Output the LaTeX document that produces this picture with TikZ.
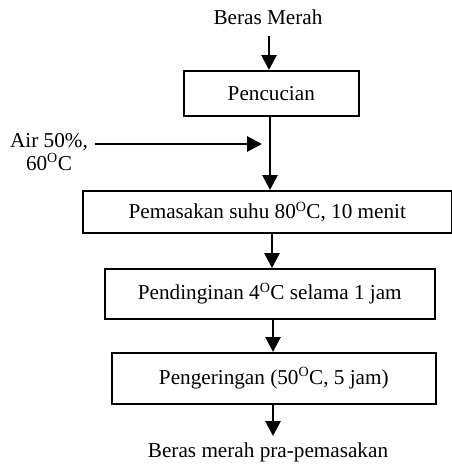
\documentclass[tikz,border=0pt]{standalone}
\usepackage{fontspec}
\setmainfont{Liberation Serif}
\usetikzlibrary{arrows.meta}
\newcommand{\degO}{\textsuperscript{\fontsize{14}{14}\selectfont O}}
\begin{document}
\begin{tikzpicture}[x=1pt,y=-1pt,
  every node/.style={font=\fontsize{21.2}{23}\selectfont, inner sep=0pt},
  box/.style={draw, line width=1.6pt, anchor=north west},
  arr/.style={line width=2.8pt, -{Triangle[length=15pt,width=15pt]}}]
\useasboundingbox (0,0) rectangle (452,466);
\node (t) at (268,17) {Beras Merah};
\node[box, minimum width=175pt, minimum height=45pt] (p1) at (183,70) {Pencucian};
\node[box, minimum width=369pt, minimum height=42pt] (p2) at (82,190) {Pemasakan suhu 80\degO C, 10 menit};
\node[box, minimum width=330pt, minimum height=50pt] (p3) at (104,268) {Pendinginan 4\degO C selama 1 jam};
\node[box, minimum width=324pt, minimum height=51pt] (p4) at (111,352) {Pengeringan (50\degO C, 5 jam)};
\node (e) at (268,452) {Beras merah pra-pemasakan};
\node[align=center] (air) at (49,152) {Air 50\%,\\60\degO C};
\coordinate (a0) at (95,144);
\coordinate (a1) at (262,144);
\coordinate (s1) at (269,36);
\coordinate (s5) at (273,436);
\draw[arr] (s1) -- (s1 |- p1.north);
\draw[arr] (p1.south -| 270,0) -- (p2.north -| 270,0);
\draw[arr] (a0) -- (a1);
\draw[arr] (p2.south -| 272,0) -- (p3.north -| 272,0);
\draw[arr] (p3.south -| 273,0) -- (p4.north -| 273,0);
\draw[arr] (p4.south -| 273,0) -- (s5);
\end{tikzpicture}
\end{document}
